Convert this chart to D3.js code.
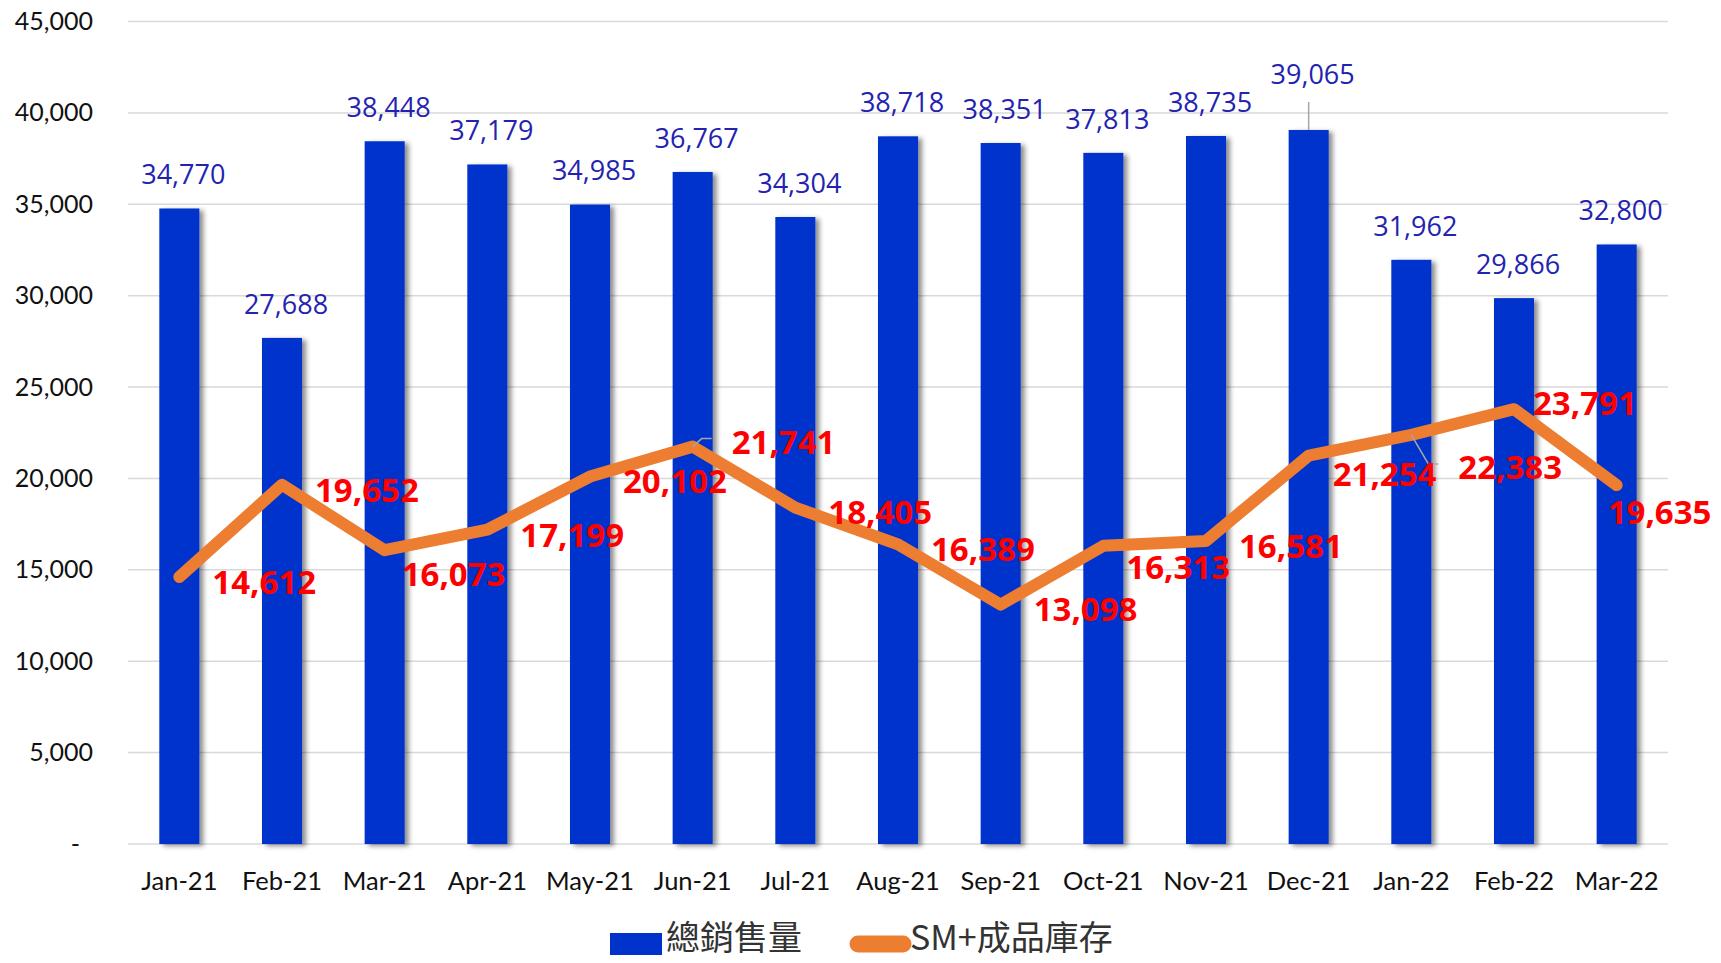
<!DOCTYPE html>
<html>
<head>
<meta charset="utf-8">
<script src="https://cdn.jsdelivr.net/npm/d3@7"></script>
<style>
    body { margin: 0; background: #fff; }
    #chart-area { width: 1721px; height: 963px; }
</style>
</head>
<body>
<div id="chart-area"></div>
<script>

// data
const months = ['Jan-21','Feb-21','Mar-21','Apr-21','May-21','Jun-21','Jul-21','Aug-21','Sep-21','Oct-21','Nov-21','Dec-21','Jan-22','Feb-22','Mar-22'];
const totalSales = [34770, 27688, 38448, 37179, 34985, 36767, 34304, 38718, 38351, 37813, 38735, 39065, 31962, 29866, 32800];
const inventory = [14612, 19652, 16073, 17199, 20102, 21741, 18405, 16389, 13098, 16313, 16581, 21254, 22383, 23791, 19635];
const yTicks = [0, 5000, 10000, 15000, 20000, 25000, 30000, 35000, 40000, 45000];
const seriesNames = ['總銷售量', 'SM+成品庫存'];

// hand-moved labels (as in the original sheet)
const lineLabelNudge = {
    'Mar-21': [17, 24], 'Jun-21': [39, -5], 'Oct-21': [23, 21], 'Dec-21': [24, 19],
    'Jan-22': [47, 32], 'Feb-22': [19, -6], 'Mar-22': [-9, 27]
};
const lineLeaders = ['Jun-21', 'Jan-22'];
const barLabelLift = {'Dec-21': 22};


class BarLineChart {

    constructor(parentElement) {
        this.parentElement = parentElement;
        this.barColor = '#0033cc';
        this.lineColor = '#ed7d31';
        this.initVis();
    }

    initVis() {
        let vis = this;

        vis.margin = {top: 21.5, right: 53, bottom: 119, left: 128};
        vis.width = 1721 - vis.margin.left - vis.margin.right;
        vis.height = 963 - vis.margin.top - vis.margin.bottom;

        vis.root = d3.select('#' + vis.parentElement).append('svg')
            .attr('width', 1721)
            .attr('height', 963);

        // bar shadow
        vis.root.append('defs').append('filter')
            .attr('id', 'barShadow')
            .attr('x', '-50%').attr('y', '-10%').attr('width', '200%').attr('height', '120%')
            .append('feDropShadow')
            .attr('dx', 4).attr('dy', 2)
            .attr('stdDeviation', 2.5)
            .attr('flood-color', '#000')
            .attr('flood-opacity', 0.45);

        vis.svg = vis.root.append('g')
            .attr('transform', `translate(${vis.margin.left},${vis.margin.top})`);

        vis.x = d3.scaleBand()
            .domain(months)
            .range([0, vis.width])
            .paddingInner(0.61)
            .paddingOuter(0.305);

        vis.y = d3.scaleLinear()
            .domain([0, 45000])
            .range([vis.height, 0]);

        vis.wrangleData();
    }

    wrangleData() {
        let vis = this;
        vis.displayData = months.map((m, i) => ({
            month: m,
            sales: totalSales[i],
            stock: inventory[i]
        }));
        vis.updateVis();
    }

    updateVis() {
        let vis = this;
        let fmt = d3.format(',');
        let cx = d => vis.x(d.month) + vis.x.bandwidth() / 2;

        // gridlines
        vis.svg.append('g')
            .selectAll('line')
            .data(yTicks)
            .enter().append('line')
            .attr('x1', 0).attr('x2', vis.width)
            .attr('y1', d => vis.y(d)).attr('y2', d => vis.y(d))
            .attr('stroke', '#d9d9d9')
            .attr('stroke-width', 1.5);

        // y axis
        let yAxis = d3.axisLeft(vis.y)
            .tickValues(yTicks)
            .tickSize(0)
            .tickPadding(35)
            .tickFormat(d => d === 0 ? '-' : fmt(d));
        let yg = vis.svg.append('g').call(yAxis);
        yg.select('.domain').remove();
        yg.selectAll('text')
            .style('font-family', 'Lato, sans-serif')
            .style('font-size', '25px')
            .attr('fill', '#111')
            .attr('dx', d => d === 0 ? -13 : 0);

        // x axis
        let xAxis = d3.axisBottom(vis.x).tickSize(0).tickPadding(28);
        let xg = vis.svg.append('g')
            .attr('transform', `translate(0,${vis.height})`)
            .call(xAxis);
        xg.select('.domain').remove();
        xg.selectAll('text')
            .style('font-family', 'Lato, sans-serif')
            .style('font-size', '25.5px')
            .attr('fill', '#111');

        // bars
        vis.svg.append('g')
            .selectAll('.bar')
            .data(vis.displayData)
            .enter().append('rect')
            .attr('class', 'bar')
            .attr('x', d => vis.x(d.month))
            .attr('y', d => vis.y(d.sales))
            .attr('width', vis.x.bandwidth())
            .attr('height', d => vis.height - vis.y(d.sales))
            .attr('fill', vis.barColor)
            .attr('filter', 'url(#barShadow)');

        // bar labels
        let barLabelY = d => vis.y(d.sales) - 34 - (barLabelLift[d.month] || 0);
        vis.svg.append('g')
            .selectAll('line')
            .data(vis.displayData.filter(d => barLabelLift[d.month]))
            .enter().append('line')
            .attr('x1', cx).attr('x2', cx)
            .attr('y1', d => vis.y(d.sales))
            .attr('y2', d => barLabelY(d) + 28)
            .attr('stroke', '#a6a6a6')
            .attr('stroke-width', 1.5);

        vis.svg.append('g')
            .selectAll('text')
            .data(vis.displayData)
            .enter().append('text')
            .attr('x', d => cx(d) + 4)
            .attr('y', barLabelY)
            .attr('dy', '0.36em')
            .attr('text-anchor', 'middle')
            .style('font-family', '"Open Sans", sans-serif')
            .style('font-size', '27px')
            .attr('fill', '#2323b0')
            .text(d => fmt(d.sales));

        // line
        let line = d3.line()
            .x(cx)
            .y(d => vis.y(d.stock));

        vis.svg.append('path')
            .datum(vis.displayData)
            .attr('d', line)
            .attr('fill', 'none')
            .attr('stroke', vis.lineColor)
            .attr('stroke-width', 12)
            .attr('stroke-linejoin', 'round')
            .attr('stroke-linecap', 'round');

        // line labels
        let nudge = d => lineLabelNudge[d.month] || [33, 5];
        let lx = d => cx(d) + nudge(d)[0];
        let ly = d => vis.y(d.stock) + nudge(d)[1];

        vis.svg.append('g')
            .selectAll('polyline')
            .data(vis.displayData.filter(d => lineLeaders.includes(d.month)))
            .enter().append('polyline')
            .attr('points', d => [
                [cx(d), vis.y(d.stock)],
                [lx(d) - 30, ly(d) - 3],
                [lx(d) - 20, ly(d) - 3]
            ].join(' '))
            .attr('fill', 'none')
            .attr('stroke', '#a6a6a6')
            .attr('stroke-width', 1.5);

        vis.svg.append('g')
            .selectAll('text')
            .data(vis.displayData)
            .enter().append('text')
            .attr('x', lx)
            .attr('y', ly)
            .attr('dy', '0.36em')
            .style('font-family', '"Open Sans", sans-serif')
            .style('font-weight', 'bold')
            .style('font-size', '33px')
            .attr('fill', '#ff0000')
            .text(d => fmt(d.stock));

        // legend
        let legend = vis.root.append('g').attr('class', 'legend');
        legend.append('rect')
            .attr('x', 610).attr('y', 933)
            .attr('width', 52).attr('height', 22)
            .attr('fill', vis.barColor);
        legend.append('text')
            .attr('x', 666).attr('y', 950)
            .style('font-family', '"Noto Sans CJK TC", sans-serif')
            .style('font-size', '34px')
            .attr('fill', '#333')
            .text(seriesNames[0]);
        legend.append('line')
            .attr('x1', 858).attr('x2', 903)
            .attr('y1', 944).attr('y2', 944)
            .attr('stroke', vis.lineColor)
            .attr('stroke-width', 17)
            .attr('stroke-linecap', 'round');
        legend.append('text')
            .attr('x', 910).attr('y', 950)
            .style('font-family', '"Noto Sans CJK TC", sans-serif')
            .style('font-size', '34px')
            .attr('fill', '#333')
            .text(seriesNames[1]);
    }
}

new BarLineChart('chart-area');
</script>
</body>
</html>
